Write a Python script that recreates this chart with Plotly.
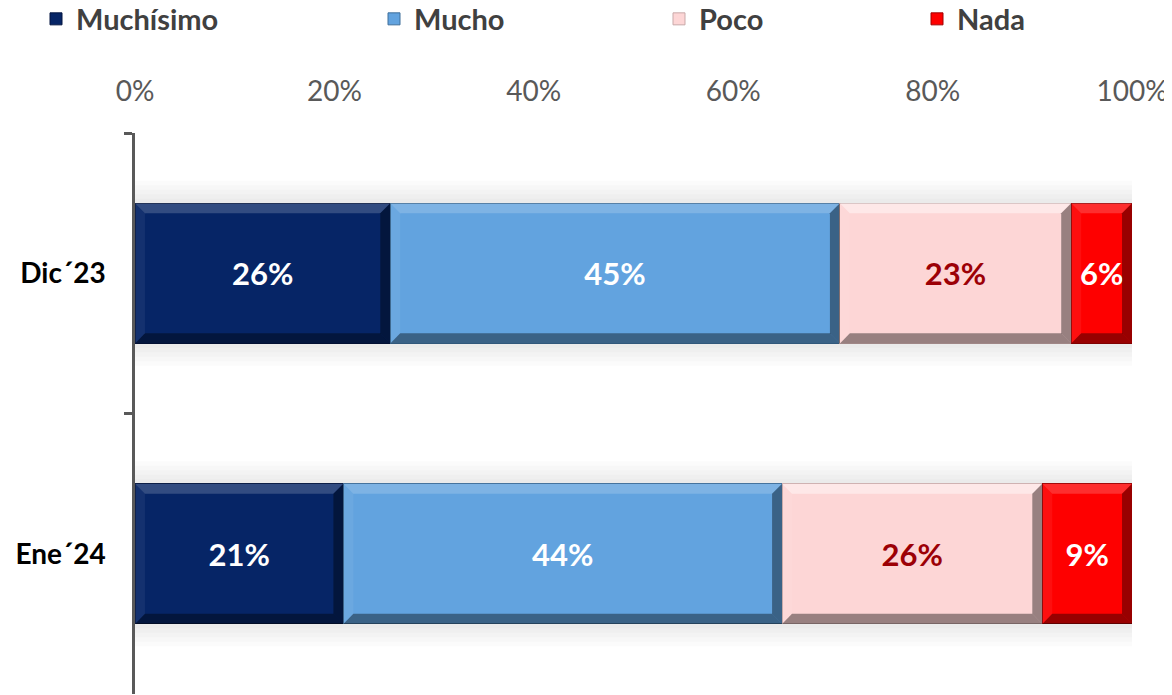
import plotly.graph_objects as go

# periods (top to bottom) and shares per answer, in percent
periods = ["Dic´23", "Ene´24"]
muchisimo = [25.6, 20.9]
mucho = [45.1, 44.0]
poco = [23.2, 26.1]
nada = [6.1, 9.0]

x_ticks = [0, 20, 40, 60, 80, 100]

series = [
    ("Muchísimo", muchisimo, "#062566", "#031540", "white"),
    ("Mucho", mucho, "#62A3DF", "#3E6E9A", "white"),
    ("Poco", poco, "#FDD6D6", "#C9A9A9", "#9C0006"),
    ("Nada", nada, "#FE0000", "#A00000", "white"),
]

FONT = "Lato, 'Open Sans', sans-serif"
BAR_W = 0.5
BEVEL_X = 1.0     # in % units
BEVEL_Y = 0.036   # in category units

# page body adds an 8px offset, so the figure is a bit smaller than the window
W, H = 1164, 687

legend_names = ["legend", "legend2", "legend3", "legend4"]
legend_x = [28, 366, 651, 909]

fig = go.Figure()
for (name, vals, color, edge, txtcolor), lg in zip(series, legend_names):
    fig.add_trace(go.Bar(
        y=periods,
        x=vals,
        name=name,
        legend=lg,
        showlegend=True,
        orientation="h",
        width=BAR_W,
        marker=dict(color=color, line=dict(color=edge, width=1)),
        text=[f"{v:.0f}%" for v in vals],
        textposition="inside",
        insidetextanchor="middle",
        textangle=0,
        textfont=dict(size=31, color=txtcolor, family=FONT, weight="bold"),
        hovertemplate="%{y}: %{x:.0f}%<extra>" + name + "</extra>",
    ))

shapes = []
# soft halo behind each stacked bar
for i in range(len(periods)):
    total = sum(vals[i] for _, vals, *_ in series)
    for k in (1, 2, 3, 4, 5):
        shapes.append(dict(type="rect", xref="x", yref="y",
                           x0=0, x1=total + 0.35 * k,
                           y0=i - BAR_W / 2 - 0.016 * k, y1=i + BAR_W / 2 + 0.016 * k,
                           fillcolor="black", opacity=0.016, line=dict(width=0),
                           layer="below"))

# bevel edges on every bar segment, derived from the data
for i in range(len(periods)):
    start = 0.0
    for name, vals, color, edge, txtcolor in series:
        x0, x1 = start, start + vals[i]
        start = x1
        ya, yb = i - BAR_W / 2, i + BAR_W / 2   # ya = top (axis reversed)
        bx, by = BEVEL_X, BEVEL_Y
        light = 0.45 if name == "Poco" else 0.18
        faces = [
            ([(x0, ya), (x1, ya), (x1 - bx, ya + by), (x0 + bx, ya + by)], "white", light),
            ([(x0, yb), (x1, yb), (x1 - bx, yb - by), (x0 + bx, yb - by)], "black", 0.4),
            ([(x1, ya), (x1, yb), (x1 - bx, yb - by), (x1 - bx, ya + by)], "black", 0.4),
            ([(x0, ya), (x0, yb), (x0 + bx, yb - by), (x0 + bx, ya + by)], "white", 0.06),
        ]
        for pts, col, op in faces:
            path = "M " + " L ".join(f"{px},{py}" for px, py in pts) + " Z"
            shapes.append(dict(type="path", path=path, xref="x", yref="y",
                               fillcolor=col, opacity=op, line=dict(width=0),
                               layer="above"))

legends = {}
for lg, lx in zip(legend_names, legend_x):
    legends[lg] = dict(
        orientation="h",
        xref="container",
        yref="container",
        x=lx / W,
        y=1 - 11 / H,
        xanchor="left",
        yanchor="middle",
        font=dict(size=29, color="#404040", family=FONT, weight="bold"),
        bgcolor="rgba(0,0,0,0)",
    )

fig.update_layout(
    barmode="stack",
    width=W,
    height=H,
    margin=dict(l=127, r=40, t=125, b=1, autoexpand=False),
    plot_bgcolor="white",
    paper_bgcolor="white",
    showlegend=True,
    font=dict(family=FONT, color="#404040"),
    shapes=shapes,
    xaxis=dict(
        side="top",
        range=[0, 100],
        tickvals=x_ticks,
        ticktext=[f"{t}%" for t in x_ticks],
        tickfont=dict(size=28, color="#595959", family=FONT),
        showgrid=False,
        zeroline=False,
        showline=False,
        ticks="",
        ticklabelstandoff=25,
        automargin=False,
        fixedrange=True,
    ),
    yaxis=dict(
        categoryorder="array",
        categoryarray=periods,
        autorange="reversed",
        tickson="boundaries",
        ticks="outside",
        ticklen=8,
        tickwidth=2.5,
        tickcolor="#595959",
        showline=True,
        linecolor="#595959",
        linewidth=2.5,
        showgrid=False,
        zeroline=False,
        ticklabelstandoff=21,
        tickfont=dict(size=28, color="black", family=FONT, weight="bold"),
        automargin=False,
        fixedrange=True,
    ),
    bargap=0.5,
    **legends,
)

fig.write_html("out.html")
